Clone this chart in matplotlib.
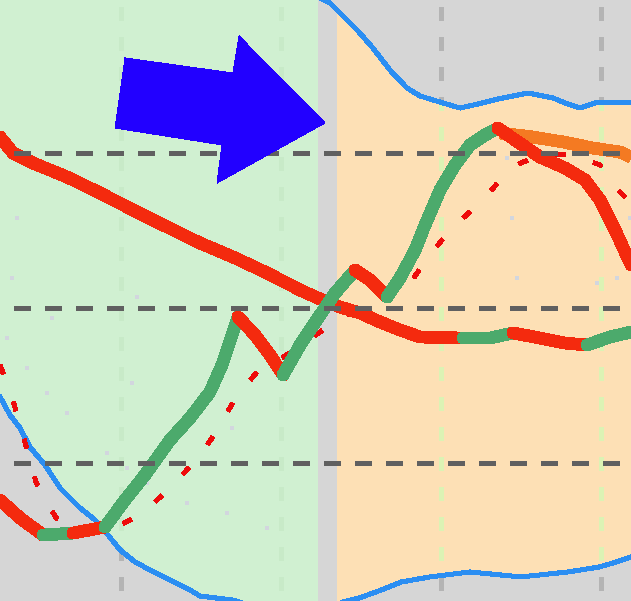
import numpy as np
import matplotlib.pyplot as plt
from matplotlib.patches import Polygon

plt.rcParams["lines.scale_dashes"] = False
plt.rcParams["lines.antialiased"] = False
plt.rcParams["patch.antialiased"] = False

# thick line A: starts top-left, falls, then runs flat on the right
a_x = [2.44, 3.25, 4.5, 6.63, 8.69, 10.75, 12.88, 14.94, 17.0, 19.13, 21.19, 22.44, 23.69,
       24.94, 26.19, 27.44, 28.69, 31.38, 33.06, 34.5, 36.19, 37.75, 39.13, 40.56, 41.88]
a_y = [31.03, 30.0, 29.35, 28.45, 27.42, 26.32, 25.23, 24.19, 23.29, 22.26, 21.16, 20.58, 20.06,
       19.68, 19.1, 18.58, 18.13, 18.06, 18.06, 18.39, 18.06, 17.74, 17.61, 18.13, 18.45]
a_trend = "ddddddddddddddddd" + "uu" + "ddd" + "uu"   # one letter per segment

# thick line B: starts bottom-left, climbs in waves, peaks top-right
b_x = [2.44, 3.69, 5.13, 7.0, 9.0, 10.25, 11.5, 13.06, 14.31, 15.56, 16.31, 16.94, 17.31,
       18.38, 19.31, 20.13, 21.19, 22.31, 23.38, 24.63, 25.56, 26.63, 27.44, 28.38, 29.0,
       29.94, 30.88, 31.81, 32.75, 33.56, 34.63, 36.19, 37.75, 39.0, 39.94, 40.88, 41.88]
b_y = [7.61, 6.45, 5.35, 5.48, 5.87, 7.61, 9.23, 11.48, 12.9, 14.58, 16.32, 18.26, 19.42,
       18.26, 16.97, 15.68, 17.61, 19.35, 20.97, 22.45, 21.81, 20.71, 21.94, 23.74, 25.35,
       27.61, 29.23, 30.52, 31.16, 31.61, 30.84, 29.74, 29.03, 28.26, 26.97, 25.03, 22.77]
b_trend = "dd" + "u" + "d" + "uuuuuuuu" + "ddd" + "uuuu" + "dd" + "uuuuuuuu" + "ddddddd"

# orange line from the peak of B
o_x = [33.69, 35.75, 37.63, 39.5, 41.19, 41.88]
o_y = [31.29, 31.03, 30.71, 30.32, 30.06, 29.74]

# thin dashed red line
c_x = [2.44, 3.19, 4.13, 4.69, 5.94, 7.25, 9.63, 11.38, 13.06, 14.81, 16.13, 17.13, 18.5,
       20.56, 22.88, 25.25, 27.75, 29.31, 30.56, 32.75, 34.31, 36.19, 38.06, 39.94, 40.88, 41.88]
c_y = [16.32, 14.26, 10.84, 8.77, 6.45, 5.81, 5.81, 6.77, 8.39, 10.32, 12.26, 14.19, 15.87,
       17.1, 18.77, 20.19, 21.16, 23.42, 25.03, 27.1, 29.03, 29.9, 29.9, 29.23, 27.81, 26.77]

# blue envelope, upper and lower
up_x = [2.44, 20.56, 22.31, 23.06, 23.69, 24.75, 25.69, 26.81, 27.88, 28.69, 29.31, 30.13,
        31.19, 32.31, 33.56, 35.44, 37.0, 37.75, 38.69, 39.63, 41.88]
up_y = [48.0, 41.81, 40.06, 39.68, 39.03, 37.94, 36.84, 35.35, 34.19, 33.68, 33.48, 33.23,
        32.9, 33.16, 33.48, 33.87, 33.55, 33.23, 32.9, 33.23, 33.23]
lo_x = [2.44, 3.06, 3.69, 4.31, 5.25, 6.19, 7.44, 8.38, 9.19, 9.94, 10.88, 11.81, 13.06,
        14.31, 14.94, 16.94, 20.56, 24.88, 25.94, 26.75, 27.5, 29.31, 31.81, 35.0, 37.94,
        39.88, 40.94, 41.88]
lo_y = [14.26, 13.1, 12.26, 11.03, 9.87, 8.39, 7.1, 6.32, 5.35, 4.39, 3.61, 3.1, 2.45,
        1.81, 1.42, 1.16, 0.19, 1.29, 1.68, 2.0, 2.32, 2.65, 2.97, 2.65, 2.97, 3.29, 3.61, 3.94]

# shaded windows (x ranges)
green_win = (2.44, 22.31)
orange_win = (23.56, 41.88)

# faint points
dot_x = [3.5, 3.19, 11.0, 5.69, 2.88, 4.13, 5.38, 6.63, 10.69, 9.13, 10.38, 11.63, 14.13,
         16.63, 19.13, 16.94, 34.13, 34.44, 34.75, 39.75, 41.0, 41.81]
dot_y = [25.81, 21.94, 20.71, 19.35, 18.06, 16.13, 14.52, 13.23, 15.16, 10.65, 9.68, 8.71,
         7.42, 6.77, 5.81, 12.26, 29.68, 25.81, 21.94, 21.61, 21.94, 25.81]

# callout arrow outline
arrow_x = [10.25, 17.0, 17.38, 22.75, 16.0, 16.31, 9.63]
arrow_y = [36.13, 35.16, 37.55, 31.94, 28.06, 30.52, 31.61]

TREND = {"d": "#f42a0e", "u": "#4caa6c"}


def band(ax, x0, x1, color):
    # fill between the blue envelopes, limited to one window
    ux = [x0] + [v for v in up_x if x0 < v < x1] + [x1]
    lx = [x0] + [v for v in lo_x if x0 < v < x1] + [x1]
    top = np.column_stack([ux, np.interp(ux, up_x, up_y)])
    bot = np.column_stack([lx, np.interp(lx, lo_x, lo_y)])[::-1]
    poly = Polygon(np.vstack([top, bot]), closed=True, facecolor=color, edgecolor="none", zorder=1)
    ax.add_patch(poly)
    return poly


def draw_trend(ax, xs, ys, states, z):
    start = 0
    for i in range(1, len(states) + 1):
        if i == len(states) or states[i] != states[start]:
            ax.plot(xs[start:i + 1], ys[start:i + 1], color=TREND[states[start]], lw=8.5,
                    solid_capstyle="round", solid_joinstyle="round", zorder=z)
            start = i


fig = plt.figure(figsize=(6.31, 6.01), dpi=100, facecolor="#d6d6d6")
ax = fig.add_axes([0, 0, 1, 1])
ax.set_facecolor("#d6d6d6")
ax.set_xlim(2.4375, 41.875)
ax.set_ylim(1.0968, 39.871)
ax.set_xticks([])
ax.set_yticks([])
for s in ax.spines.values():
    s.set_visible(False)

green_poly = band(ax, *green_win, "#d0f0d1")
orange_poly = band(ax, *orange_win, "#fde0b5")

vdash = (13.7, (9.4, 12.2))
for gx in [10, 20, 30, 40]:
    ax.axvline(gx, color="#b4b4b4", lw=3.5, ls=vdash, zorder=0.5)
    g = ax.axvline(gx, color="#c8eac8", lw=3.5, ls=vdash, zorder=1.5)
    g.set_clip_path(green_poly)
    o = ax.axvline(gx, color="#dcf3b4", lw=3.5, ls=vdash, zorder=1.5)
    o.set_clip_path(orange_poly)

ax.scatter(dot_x, dot_y, s=9, marker="s", color="#d2d6de", linewidths=0, zorder=2)

ax.plot(up_x, up_y, color="#2b8ef2", lw=2.9, zorder=3)
ax.plot(lo_x, lo_y, color="#2b8ef2", lw=2.9, zorder=3)

ax.plot(c_x, c_y, color="#ee0b0b", lw=2.6, ls=(0, (7, 21)), zorder=4)
ax.plot(o_x, o_y, color="#f47a22", lw=8.5, solid_capstyle="butt", zorder=4.5)
draw_trend(ax, a_x, a_y, a_trend, 5)
draw_trend(ax, b_x, b_y, b_trend, 5)

for gy in [10, 20, 30]:
    ax.axhline(gy, color="#606060", lw=3.6, ls=(12.2, (10.8, 10.8)), zorder=6)

ax.add_patch(Polygon(np.column_stack([arrow_x, arrow_y]), closed=True,
                     facecolor="#2200ff", edgecolor="none", zorder=7))

fig.savefig("out.png", dpi=100, facecolor=fig.get_facecolor())
